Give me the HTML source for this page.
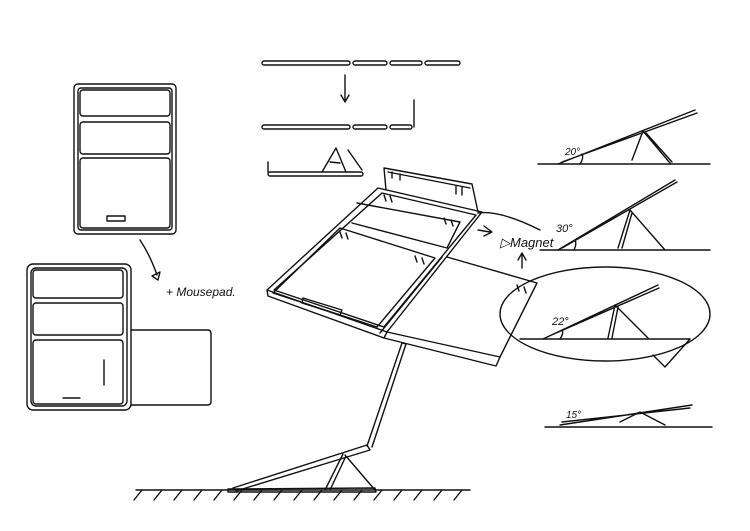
<!DOCTYPE html>
<html><head><meta charset="utf-8"><style>
html,body{margin:0;padding:0;background:#fff;width:750px;height:531px;overflow:hidden}
svg text{font-family:"Liberation Sans",sans-serif;font-style:italic}
</style></head><body>
<svg width="750" height="531" viewBox="0 0 750 531" xmlns="http://www.w3.org/2000/svg" fill="none" stroke="#111" stroke-width="1.4" stroke-linecap="round" stroke-linejoin="round">
<rect x="74" y="84" width="102" height="150" rx="4"/>
<rect x="78" y="88" width="94" height="142" rx="3"/>
<rect x="80" y="90" width="90" height="26" rx="3"/>
<rect x="80" y="122" width="90" height="32" rx="3"/>
<rect x="80" y="158" width="90" height="70" rx="3"/>
<rect x="107" y="216" width="18" height="5"/>
<path d="M140 240 Q150 255 157 275"/>
<path d="M152 276 L158 280 L160 272 Z"/>
<text x="166" y="296" font-size="12" fill="#111" stroke="none">+ Mousepad.</text>
<rect x="27" y="264" width="104" height="146" rx="6"/>
<rect x="31" y="268" width="96" height="138" rx="5"/>
<rect x="33" y="270" width="90" height="28" rx="3"/>
<rect x="33" y="303" width="90" height="32" rx="3"/>
<rect x="33" y="340" width="90" height="64" rx="3"/>
<line x1="104" y1="360" x2="104" y2="385"/>
<line x1="63" y1="398" x2="80" y2="398"/>
<path d="M131 330 L208 330 Q211 330 211 334 L211 402 Q211 405 207 405 L131 405"/>
<rect x="262" y="61" width="88" height="4" rx="2"/>
<rect x="353" y="61" width="34" height="4" rx="2"/>
<rect x="390" y="61" width="32" height="4" rx="2"/>
<rect x="425" y="61" width="35" height="4" rx="2"/>
<line x1="345" y1="75" x2="345" y2="100"/><path d="M341 95 L345 102 L349 95"/>
<rect x="262" y="125" width="88" height="4" rx="2"/>
<rect x="353" y="125" width="34" height="4" rx="2"/>
<rect x="390" y="125" width="22" height="4" rx="2"/>
<line x1="414" y1="100" x2="414" y2="127"/>
<rect x="268" y="172" width="95" height="4" rx="2"/>
<path d="M268 172 L268 162"/>
<path d="M322 172 L336 148 L346 172 M330 162 L340 163"/>
<path d="M348 150 L362 170"/>
<path d="M386 190 L384 168 L472 184 L478 212"/>
<path d="M388 172 L470 188"/>
<path d="M378 188 L482 212 L387 332 L267 290 Z"/>
<path d="M382 193 L476 215 L384 327 L274 290 Z"/>
<path d="M357 203 L460 222 L447 248 L352 223"/>
<path d="M340 228 L435 258 L377 327 L273 293 Z"/>
<path d="M267 290 L268 296 L384 338 L387 332"/>
<path d="M447 257 L537 283 L500 357 L387 332"/>
<path d="M384 338 L496 366 L500 357"/>
<path d="M442 257 L380 333"/>
<path d="M303 298 L342 310 L340 315 L302 303 Z"/>
<path d="M384 195 l2 6 M390 196 l2 6 M444 218 l2 6 M451 220 l2 6 M340 232 l2 6 M346 233 l2 6 M415 256 l2 6 M422 258 l2 6 M517 285 l2 6 M524 287 l2 6 M392 172 l0 6 M400 174 l0 6 M456 186 l0 8 M462 187 l0 8"/>
<path d="M478 213 Q500 210 540 230"/>
<path d="M478 230 L490 232 M484 226 L492 232 L484 236"/>
<text x="500" y="247" font-size="13" fill="#111" stroke="none">▷Magnet</text>
<path d="M522 268 L522 255 M518 260 L522 253 L526 260"/>
<path d="M136 490 L470 490"/>
<path d="M142 490 l-8 10 M162 490 l-8 10 M182 490 l-8 10 M202 490 l-8 10 M222 490 l-8 10 M242 490 l-8 10 M262 490 l-8 10 M282 490 l-8 10 M302 490 l-8 10 M322 490 l-8 10 M342 490 l-8 10 M362 490 l-8 10 M382 490 l-8 10 M402 490 l-8 10 M422 490 l-8 10 M442 490 l-8 10 M462 490 l-8 10"/>
<path d="M228 489 L375 488 L376 492 L228 492 Z"/>
<path d="M233 488 L367 445 L370 450 L236 491"/>
<path d="M367 446 L402 343 L406 344 L372 447"/>
<path d="M343 454 L325 490 M346 456 L330 490 M345 455 L375 490"/>
<!-- right angles -->
<path d="M538 164 L710 164"/>
<path d="M558 164 L695 110 M562 162 L697 113"/>
<path d="M632 160 L643 131 L670 163 M646 133 L672 162"/>
<path d="M580 164 Q584 158 582 154"/>
<text x="565" y="155" font-size="10" fill="#111" stroke="none">20°</text>
<path d="M540 250 L710 250"/>
<path d="M558 250 L675 180 M562 248 L677 182"/>
<path d="M618 248 L630 210 L665 250 M622 248 L632 213"/>
<path d="M574 250 Q577 244 575 240"/>
<text x="556" y="232" font-size="11" fill="#111" stroke="none">30°</text>
<ellipse cx="605" cy="314" rx="105" ry="47"/>
<path d="M520 339 L690 339"/>
<path d="M653 355 L665 367 L690 339"/>
<path d="M543 339 L658 285 M547 337 L659 288"/>
<path d="M608 338 L615 305 L648 338 M612 338 L618 307"/>
<path d="M560 339 Q564 333 562 330"/>
<text x="552" y="325" font-size="11" fill="#111" stroke="none">22°</text>
<path d="M545 427 L712 427"/>
<path d="M560 425 L692 405 M562 422 L690 408"/>
<path d="M620 422 L640 412 L665 425"/>
<text x="566" y="418" font-size="10" fill="#111" stroke="none">15°</text>
</svg>
</body></html>
